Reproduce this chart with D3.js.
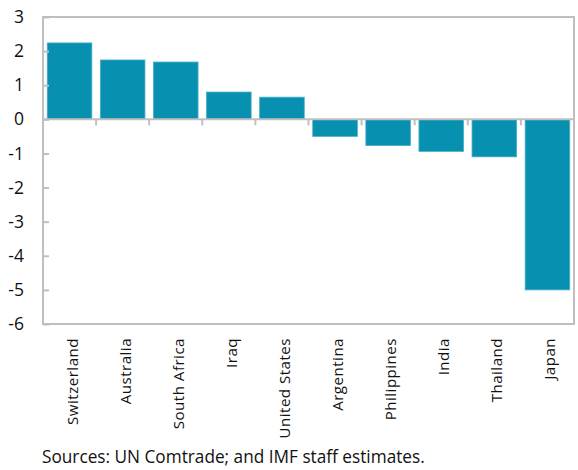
<!DOCTYPE html>
<html><head><meta charset="utf-8">
<script src="https://cdn.jsdelivr.net/npm/d3@7"></script>
<style>body{margin:0;background:#fff;} text{font-family:"Open Sans",sans-serif;}</style>
</head><body>
<svg id="c" width="578" height="470"></svg>
<script>
const categories = ["Switzerland","Australia","South Africa","Iraq","United States","Argentina","Philippines","India","Thailand","Japan"];
const values = [2.24, 1.74, 1.68, 0.8, 0.65, -0.5, -0.77, -0.94, -1.1, -5.0];
const yTicks = [3,2,1,0,-1,-2,-3,-4,-5,-6];
const source = "Sources: UN Comtrade; and IMF staff estimates.";

const svg = d3.select("#c");
const L = 43, R = 574, T = 17, B = 324;
const x = d3.scaleBand().domain(categories).range([L, R]).paddingInner(0.16).paddingOuter(0.08);
const y = d3.scaleLinear().domain([-6, 3]).range([B, T]);
const grey = "#BFBFBF";

// plot frame
svg.append("rect").attr("x", L).attr("y", T).attr("width", R - L).attr("height", B - T)
  .attr("fill", "none").attr("stroke", grey).attr("stroke-width", 2);

// bars
svg.selectAll("rect.bar").data(values).enter().append("rect").attr("class","bar")
  .attr("x", (d,i) => x(categories[i]))
  .attr("width", x.bandwidth())
  .attr("y", d => y(Math.max(0, d)))
  .attr("height", d => Math.abs(y(d) - y(0)))
  .attr("fill", "#0890B0").attr("stroke", "#4AAFC8").attr("stroke-width", 0.8);

// y axis ticks (inside) and labels
const yAxis = d3.axisLeft(y).tickValues(yTicks).tickSize(-6).tickPadding(19).tickFormat(d => String(d));
const ga = svg.append("g").attr("transform", `translate(${L},0)`).call(yAxis);
ga.select(".domain").remove();
ga.selectAll("line").attr("stroke", grey).attr("stroke-width", 2);
ga.selectAll("text").attr("font-size", 17.5).attr("fill", "#111").attr("text-anchor", "end").attr("x", -19);

// zero line
svg.append("line").attr("x1", L).attr("x2", R).attr("y1", y(0)).attr("y2", y(0))
  .attr("stroke", grey).attr("stroke-width", 2);

// x category boundary ticks at zero line
const step = x.step();
const bounds = categories.slice(1).map(c => x(c) - x.paddingInner() * step / 2);
svg.selectAll("line.xt").data(bounds).enter().append("line").attr("class","xt")
  .attr("x1", d => d).attr("x2", d => d).attr("y1", y(0)).attr("y2", y(0) + 6)
  .attr("stroke", grey).attr("stroke-width", 2);

// x labels rotated
const xl = svg.selectAll("text.xl").data(categories).enter().append("text").attr("class","xl")
  .attr("transform", d => `translate(${x(d) + x.bandwidth()/2 + 8},${B + 14}) rotate(-90)`)
  .attr("text-anchor", "end").attr("font-size", 15).attr("letter-spacing", 0.5)
  .attr("fill", "#111").text(d => d);
// fit so "Switzerland" spans ~87px like the reference
const swLen = xl.filter(d => d === "Switzerland").node().getComputedTextLength();
if (swLen > 0) { const fs = Math.max(12, Math.min(17, 15 * 87 / swLen)); xl.attr("font-size", fs); }

// source
const src = svg.append("text").attr("x", 42).attr("y", 463).attr("font-size", 17)
  .attr("fill", "#111").text(source);
const sLen = src.node().getComputedTextLength();
if (sLen > 0) { src.attr("font-size", Math.max(14, Math.min(19, 17 * 383 / sLen))); }
</script>
</body></html>
